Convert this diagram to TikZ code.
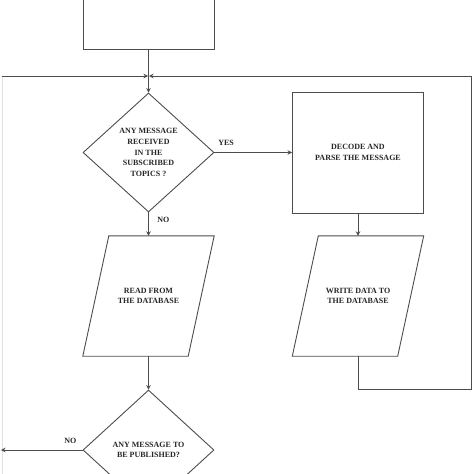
\documentclass[tikz,border=0pt]{standalone}
\usepackage{fontspec}
\setmainfont{Liberation Serif}
\usetikzlibrary{shapes.geometric,arrows.meta}
\colorlet{flowline}{black!70}
\colorlet{faintline}{black!12}

\begin{document}
\begin{tikzpicture}[
  x=1pt, y=-1pt,
  every node/.style={font=\fontsize{8}{10.7}\selectfont\bfseries, align=center, text=black!85},
  process box/.style={draw=flowline, line width=.9pt, minimum width=131pt, minimum height=121pt, inner sep=0pt},
  decision/.style={diamond, draw=flowline, line width=.9pt, minimum width=131pt, minimum height=119pt, inner sep=0pt, aspect=1.1},
  data io/.style={minimum width=105pt, minimum height=120pt, inner sep=0pt},
  io outline/.style={draw=flowline, line width=.9pt, line join=miter},
  flow/.style={draw=flowline, line width=.9pt, -{Stealth[length=4.5pt,width=4.5pt]}}
]
\useasboundingbox (0,0) rectangle (474,474);

\node[process box, minimum height=80pt] (start) at (148.5,9) {};
\node[decision] (received) at (148.5,152.5) {ANY MESSAGE\\RECEIVED\\IN THE\\SUBSCRIBED\\TOPICS ?};
\node[process box] (decode) at (358,152.5) {DECODE AND\\PARSE THE MESSAGE};
\node[data io] (read) at (148.5,296) {READ FROM\\THE DATABASE};
\node[data io] (write) at (358,296) {WRITE DATA TO\\THE DATABASE};
\node[decision, minimum height=120pt] (publish) at (148.5,450) {ANY MESSAGE TO\\BE PUBLISHED?};

\draw[io outline] ([xshift=-13pt]read.south west) -- ([xshift=13pt]read.north west)
  -- ([xshift=13pt]read.north east) -- ([xshift=-13pt]read.south east) -- cycle;
\draw[io outline] ([xshift=-13pt]write.south west) -- ([xshift=13pt]write.north west)
  -- ([xshift=13pt]write.north east) -- ([xshift=-13pt]write.south east) -- cycle;

\coordinate (join) at (148.5,76);
\coordinate (left top) at (2,76);
\coordinate (left bottom) at (2,474);
\coordinate (right loop) at (471,389);
\coordinate (no out) at (1,450);

\draw[flow] (start) -- (received);
\draw[flow] (received) -- node[above=3pt, pos=.15] {YES} (decode);
\draw[flow] (received) -- node[right=5pt, pos=.3] {NO} (read);
\draw[flow] (decode) -- (write);
\draw[flow] (read) -- (publish);
\draw[flow, shorten >=.5pt] (write.south) |- (right loop) |- (join);
\draw[faintline, line width=.9pt] (left bottom) -- (left top);
\draw[flow, shorten >=.5pt] (left top) -- (join);
\draw[flow] (publish.west) -- node[above=3pt, pos=.15] {NO} (no out);
\end{tikzpicture}
\end{document}
